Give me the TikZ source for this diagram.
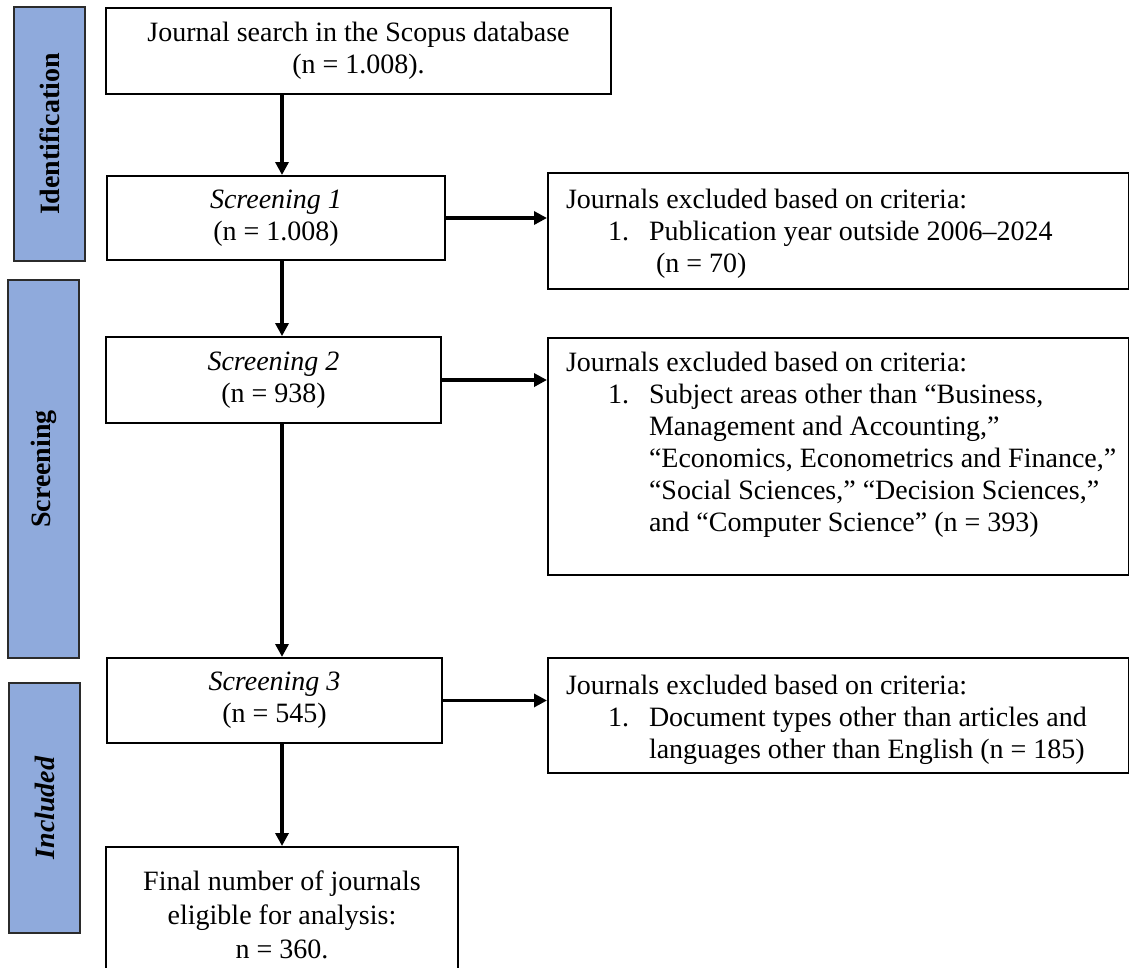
\documentclass[tikz,border=0pt]{standalone}
\usepackage{fontspec}
\setmainfont{Liberation Serif}
\usetikzlibrary{arrows.meta}
\definecolor{barblue}{HTML}{8FAADC}
\definecolor{bardark}{HTML}{2B2B2B}
\tikzset{
  flowbox/.style={draw=black, line width=2pt, inner sep=0pt, align=center, fill=white},
  exbox/.style={draw=black, line width=2pt, inner sep=0pt, anchor=north west, fill=white},
  sidebar/.style={draw=bardark, line width=2pt, fill=barblue, inner sep=0pt},
  arr/.style={line width=3.3pt, -{Triangle[length=13pt,width=13pt]}}
}
\begin{document}
\begin{tikzpicture}[x=1pt,y=-1pt, font=\fontsize{28}{32}\selectfont]
\useasboundingbox (0,0) rectangle (1129,967);

% phase bars
\node[sidebar, minimum width=71pt, minimum height=254pt] (idbar) at (49.5,134) {\rotatebox{90}{\bfseries Identification}};
\node[sidebar, minimum width=71pt, minimum height=378pt] (scbar) at (43.5,469) {\rotatebox{90}{\bfseries Screening}};
\node[sidebar, minimum width=71pt, minimum height=250pt] (inbar) at (44.5,808) {\rotatebox{90}{\bfseries\itshape Included}};

% main column
\node[flowbox, minimum width=505pt, minimum height=86pt] (top) at (358.5,51) {Journal search in the Scopus database\\(n = 1.008).};
\node[flowbox, minimum width=338pt, minimum height=84pt] (s1) at (276,218) {\itshape Screening 1\\(n = 1.008)};
\node[flowbox, minimum width=335pt, minimum height=86pt] (s2) at (273.5,380) {\itshape Screening 2\\(n = 938)};
\node[flowbox, minimum width=335pt, minimum height=85pt] (s3) at (274.5,700.5) {\itshape Screening 3\\(n = 545)};
\node[flowbox, minimum width=352pt, minimum height=136pt, font=\fontsize{28}{34}\selectfont] (final) at (282,915) {Final number of journals\\eligible for analysis:\\n = 360.};

% exclusion boxes
\node[exbox] (e1) at (547,172) {\parbox[t][116pt][t]{581pt}{\leftskip=18pt\parindent=0pt
\rule{0pt}{35pt}\mbox{Journals excluded based on criteria:}\\
\hspace*{42pt}\makebox[41pt][l]{1.}\mbox{Publication year outside 2006–2024}\\
\hspace*{90pt}\mbox{(n = 70)}}};
\node[exbox] (e2) at (547,337) {\parbox[t][237pt][t]{581pt}{\leftskip=18pt\parindent=0pt
\rule{0pt}{33pt}\mbox{Journals excluded based on criteria:}\\
\hspace*{42pt}\makebox[41pt][l]{1.}\mbox{Subject areas other than “Business,}\\
\hspace*{83pt}\mbox{Management and Accounting,”}\\
\hspace*{83pt}\mbox{“Economics, Econometrics and Finance,”}\\
\hspace*{83pt}\mbox{“Social Sciences,” “Decision Sciences,”}\\
\hspace*{83pt}\mbox{and “Computer Science” (n = 393)}}};
\node[exbox] (e3) at (547,657) {\parbox[t][115pt][t]{581pt}{\leftskip=18pt\parindent=0pt
\rule{0pt}{36pt}\mbox{Journals excluded based on criteria:}\\
\hspace*{42pt}\makebox[41pt][l]{1.}\mbox{Document types other than articles and}\\
\hspace*{83pt}\mbox{languages other than English (n = 185)}}};

% connectors
\coordinate (col) at (282,0);
\draw[arr] (col |- top.south) -- (col |- s1.north);
\draw[arr] (col |- s1.south) -- (col |- s2.north);
\draw[arr] (col |- s2.south) -- (col |- s3.north);
\draw[arr] (col |- s3.south) -- (col |- final.north);
\draw[arr] (s1.east) -- (s1.east -| e1.west);
\draw[arr] (s2.east) -- (s2.east -| e2.west);
\draw[arr] (s3.east) -- (s3.east -| e3.west);
\end{tikzpicture}
\end{document}
